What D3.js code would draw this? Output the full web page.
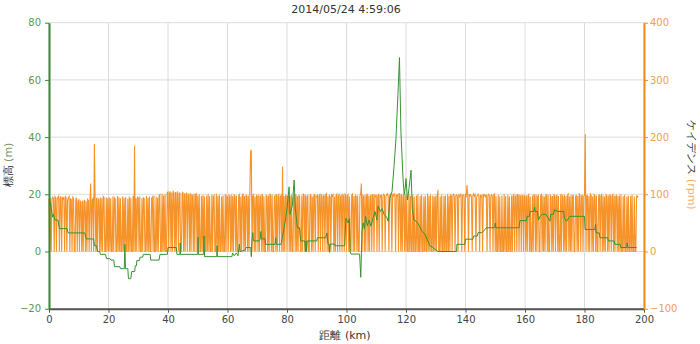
<!DOCTYPE html>
<html><head><meta charset="utf-8">
<script src="https://cdn.jsdelivr.net/npm/d3@7"></script>
<style>
body{margin:0;background:#fff;}
text{font-family:"DejaVu Sans",Verdana,sans-serif;}
</style></head>
<body><svg id="c" width="700" height="344"></svg>
<script>
const title = "2014/05/24 4:59:06";
const xTicks = [0,20,40,60,80,100,120,140,160,180,200];
const elevTicks = [-20,0,20,40,60,80];
const cadTicks = [-100,0,100,200,300,400];

// elevation (km, m)
const elevKm = [0,0.5,1.2,1.5,2,3,3.5,6,6.5,12,12.5,15,15.3,16,16.3,17,17.3,19,19.3,20.5,20.8,21.8,22,23.8,24,25.3,25.5,25.7,26.5,26.7,27.5,27.8,28.8,29,29.4,29.5,30.4,30.6,31.5,31.7,34,34.2,37,37.3,39.8,40,42.8,43,44,44.1,44.2,50,50.1,50.2,52,52.1,52.3,56.4,56.5,56.6,61.5,61.7,62.3,63,63.5,64,64.2,66,66.2,67.8,68,68.2,68.5,68.7,70.6,71,71.2,71.4,72.6,72.8,76,76.2,76.4,78,79,80,80.7,81,81.8,82.4,82.8,83.5,84.2,84.6,86,86.2,86.4,86.6,86.8,90,90.2,93,93.4,93.8,94.2,94.3,94.5,96,96.2,99.4,99.8,100.5,101,101.2,101.5,104.4,104.8,105.2,105.6,106,106.4,107,107.6,108.2,109,109.6,110.2,110.6,111.4,112,112.6,113.5,114,114.6,115.3,116,116.6,117.3,117.8,118.3,119,119.4,119.7,120,120.5,121,121.7,122.1,122.7,123.4,124.5,125.4,126.4,127.2,128,129,129.7,130.7,137,137.1,139.8,140,142.5,142.7,144,144.2,145.5,146.6,147,149.8,150,150.2,158,158.3,160.5,160.7,161.5,161.7,163,163.2,163.4,164.2,164.5,165.2,165.8,167,168.4,168.6,169.5,170,171,173,173.2,174,175,180,180.2,183.5,183.7,183.9,185,185.2,187.8,188,190,190.2,192,192.2,194.2,194.3,194.6,197.5];
const elevM = [17,17,12,13,11,11,8,8,6.5,6.5,4.4,4.4,2,2,0,0,-1,-1,-2.5,-2.5,-3,-3,-5.3,-5.3,-6,-6,2.5,-6,-6,-9.5,-9.5,-7,-7,-5,-5,-3.2,-3.2,-2,-2,-1,-1,-3,-3,-1,-1,1.4,1.4,-1,-1,3,-1,-1,5,-1,-1,5.4,-1.8,-1.8,2,-1.8,-1.8,-0.5,-1.5,-0.5,-1.5,2.6,0,0.5,1.4,1.4,-1.8,3.7,6.6,3.7,3.7,4.4,7,4.4,4.4,2.5,2.5,4.8,2.5,2.5,8,15,22.6,13,16,25,15,8.3,8.3,3.7,3.7,0,3.7,0,3.7,3.7,4.8,4.8,6.5,2.6,2.6,-0.3,2.6,2.6,2,2,11.7,10,11.5,0,-0.9,-0.9,-9,7,10,8,12.3,9,11,8.9,12,14,11,15.8,14,15,13,12,10.6,18.6,21,30,39,55,67.8,41.6,25.5,20,22,25.5,18,22,28.4,15,11,10.6,9,7,6,4,2,1.4,0.8,0,0,2.5,2.5,4.3,4.3,5.4,5.4,6.6,6.6,7.7,8.3,8.3,10,8.3,8.3,10.8,10.8,12.3,12.3,14,14,15.5,14,14,11,12.5,13,13,10.6,13,13,14.6,14,14,11.7,10.6,12.3,12.3,7.7,7.7,9.5,6.5,6.5,4.8,4.8,3.7,3.7,2.5,2.5,1.4,1.4,3,1.4,1.4];

// cadence (rpm), one value every 0.25 km from 0 km
const cadStepKm = 0.25;
const cadence = [
92,0,94,0,91,95,93,0,96,94,0,92,95,97,0,93,96,0,94,92,95,0,97,93,0,90,94,96,0,92,91,0,95,93,0,0,90,94,0,88,
90,0,88,86,0,89,0,87,90,0,88,0,91,89,0,87,119,0,90,92,0,188,91,0,94,0,92,90,0,95,0,93,0,96,94,0,0,95,0,93,
0,95,0,93,0,0,96,0,94,92,0,0,97,0,95,0,93,0,0,96,0,94,0,95,0,0,92,0,96,0,94,0,0,97,0,185,0,93,0,95,
94,0,96,0,0,93,0,95,92,0,0,97,0,94,0,96,0,0,93,95,0,98,0,0,96,0,94,0,97,99,0,0,101,0,98,0,100,0,0,103,
104,0,102,105,0,103,0,106,101,0,104,0,102,105,0,100,103,0,0,101,104,0,102,0,99,103,0,101,98,0,102,0,100,97,0,101,0,99,102,0,
98,0,100,0,0,97,0,99,0,96,0,0,98,0,100,0,97,0,0,99,0,96,98,0,0,101,0,97,0,99,0,0,96,0,98,0,0,100,0,97,
95,0,98,96,0,99,0,97,0,100,96,0,98,0,0,97,99,0,96,0,98,101,0,97,0,99,96,0,98,0,100,174,178,0,97,99,0,96,0,98,
97,0,99,0,96,98,0,100,0,97,0,0,99,96,0,98,0,101,97,0,99,0,0,96,98,0,100,0,97,99,0,96,98,0,148,0,97,0,99,96,
0,98,95,0,97,0,99,0,0,96,98,0,100,0,97,0,99,96,0,0,98,0,101,97,0,99,0,96,98,0,0,97,100,0,96,0,98,99,0,97,
96,98,0,97,99,0,100,96,0,98,97,0,99,101,0,97,0,98,96,0,100,97,99,0,96,0,98,100,0,97,99,0,96,98,0,99,97,0,100,98,
0,97,99,0,96,0,0,98,100,0,97,0,99,96,0,98,0,0,97,100,119,0,98,96,0,99,0,97,101,0,98,0,96,99,0,100,97,0,98,96,
99,0,97,100,0,98,96,99,0,97,100,98,0,96,99,101,97,0,98,100,96,0,99,97,101,98,0,100,97,99,0,102,98,0,100,0,97,99,0,101,
0,98,0,0,100,0,97,0,0,99,0,96,0,0,98,0,100,0,0,97,0,99,0,0,96,0,98,0,0,101,0,97,0,99,0,0,98,0,96,0,
98,0,97,108,0,0,96,0,99,0,0,97,0,98,0,0,100,0,97,0,99,98,0,97,100,96,0,98,99,97,0,100,96,98,101,0,97,99,98,0,
99,97,116,98,0,100,97,99,96,0,98,101,97,99,0,96,98,100,97,0,99,96,98,0,100,97,99,96,98,0,97,100,98,0,96,99,97,0,98,100,
0,97,0,0,99,0,96,0,0,98,0,0,100,0,97,0,0,99,0,96,0,0,98,0,97,99,0,96,98,0,100,97,0,99,96,0,98,97,0,99,
96,0,98,0,97,99,0,96,0,0,98,0,100,97,0,99,0,96,98,0,0,97,99,0,98,0,96,0,100,97,0,99,0,0,98,96,0,97,0,99,
98,0,96,99,0,97,0,0,100,0,98,96,0,99,0,97,0,98,100,0,96,0,99,0,97,98,0,0,96,99,0,97,0,100,98,0,96,99,0,97,
98,205,0,96,99,0,97,0,100,98,0,96,0,99,97,0,98,0,0,96,100,0,97,99,0,98,0,96,0,99,97,0,98,0,100,96,0,97,99,0,
98,0,96,99,0,97,0,98,0,100,0,0,97,0,99,0,0,96,0,98,0,0,97,0,99,0,0,96,0,0,98,95,97
];

const svg = d3.select("#c");
const L=49, R=644, T=22.7, B=308.7;
const x = d3.scaleLinear().domain([0,200]).range([L,R]);
const yL = d3.scaleLinear().domain([-20,80]).range([B,T]);
const yR = d3.scaleLinear().domain([-100,400]).range([B,T]);

// grid
const g = svg.append("g");
g.selectAll("line.v").data(xTicks).join("line")
  .attr("x1",d=>x(d)).attr("x2",d=>x(d)).attr("y1",T).attr("y2",B)
  .attr("stroke","#dcdcdc").attr("stroke-width",1);
g.selectAll("line.h").data(elevTicks).join("line")
  .attr("x1",L).attr("x2",R).attr("y1",d=>yL(d)).attr("y2",d=>yL(d))
  .attr("stroke","#dcdcdc").attr("stroke-width",1);

// cadence line
const cadLine = d3.line().x((d,i)=>x(i*cadStepKm)).y(d=>yR(d));
svg.append("path").datum(cadence).attr("d",cadLine)
  .attr("fill","none").attr("stroke","#f48c1c").attr("stroke-width",1.1)
  .attr("stroke-opacity",0.95).attr("stroke-linejoin","miter");

// elevation line
const elevLine = d3.line().x((d,i)=>x(elevKm[i])).y(d=>yL(d));
svg.append("path").datum(elevM).attr("d",elevLine)
  .attr("fill","none").attr("stroke","#3a9234").attr("stroke-width",1);

// axes
const axB = svg.append("g").attr("transform",`translate(0,${B})`)
  .call(d3.axisBottom(x).tickValues(xTicks).tickSize(4).tickPadding(3).tickSizeOuter(0));
axB.select(".domain").attr("stroke","#555").attr("stroke-width",2);
axB.selectAll(".tick line").attr("stroke","#555");
axB.selectAll("text").attr("fill","#444").style("font-size","10px");

const axL = svg.append("g").attr("transform",`translate(${L},0)`)
  .call(d3.axisLeft(yL).tickValues(elevTicks).tickSize(4).tickPadding(4).tickSizeOuter(0));
axL.select(".domain").attr("stroke","#3a8a34").attr("stroke-width",2);
axL.selectAll(".tick line").attr("stroke","#3a8a34");
axL.selectAll("text").attr("fill","#5a9a4a").style("font-size","10px");

const axR = svg.append("g").attr("transform",`translate(${R},0)`)
  .call(d3.axisRight(yR).tickValues(cadTicks).tickSize(4).tickPadding(2).tickSizeOuter(0));
axR.select(".domain").attr("stroke","#f28a1a").attr("stroke-width",2);
axR.selectAll(".tick line").attr("stroke","#f28a1a");
axR.selectAll("text").attr("fill","#f0a050").style("font-size","10px");

// texts
svg.append("text").attr("x",346).attr("y",13).attr("text-anchor","middle")
  .attr("fill","#333").style("font-size","11px").text(title);
const xl = svg.append("text").attr("x",345).attr("y",339).attr("text-anchor","middle")
  .attr("fill","#333").style("font-size","11px");
xl.append("tspan").text("距離 ");
xl.append("tspan").text("(km)");
const ll = svg.append("text").attr("transform","translate(12,165) rotate(-90)")
  .attr("text-anchor","middle").attr("fill","#333").style("font-size","11px");
ll.append("tspan").text("標高 ");
ll.append("tspan").attr("fill","#7a9a6a").text("(m)");
const rl = svg.append("text").attr("transform","translate(688,165) rotate(90)")
  .attr("text-anchor","middle").attr("fill","#333").style("font-size","11px");
rl.append("tspan").text("ケイデンス ");
rl.append("tspan").attr("fill","#f0b070").text("(rpm)");
</script></body></html>
